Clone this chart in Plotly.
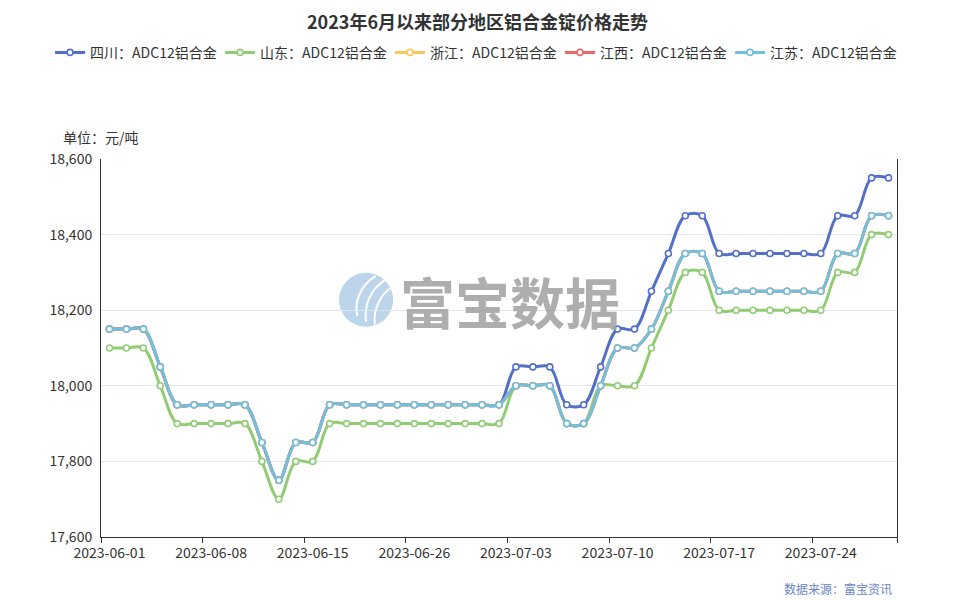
import plotly.graph_objects as go

dates = [
    "2023-06-01", "2023-06-02", "2023-06-03", "2023-06-05", "2023-06-06", "2023-06-07",
    "2023-06-08", "2023-06-09", "2023-06-10", "2023-06-12", "2023-06-13", "2023-06-14",
    "2023-06-15", "2023-06-16", "2023-06-19", "2023-06-20", "2023-06-21", "2023-06-25",
    "2023-06-26", "2023-06-27", "2023-06-28", "2023-06-29", "2023-06-30", "2023-07-01",
    "2023-07-03", "2023-07-04", "2023-07-05", "2023-07-06", "2023-07-07", "2023-07-08",
    "2023-07-10", "2023-07-11", "2023-07-12", "2023-07-13", "2023-07-14", "2023-07-15",
    "2023-07-17", "2023-07-18", "2023-07-19", "2023-07-20", "2023-07-21", "2023-07-22",
    "2023-07-24", "2023-07-25", "2023-07-26", "2023-07-27", "2023-07-28",
]

sichuan = [18150, 18150, 18150, 18050, 17950, 17950, 17950, 17950, 17950, 17850, 17750, 17850,
           17850, 17950, 17950, 17950, 17950, 17950, 17950, 17950, 17950, 17950, 17950, 17950,
           18050, 18050, 18050, 17950, 17950, 18050, 18150, 18150, 18250, 18350, 18450, 18450,
           18350, 18350, 18350, 18350, 18350, 18350, 18350, 18450, 18450, 18550, 18550]
shandong = [18100, 18100, 18100, 18000, 17900, 17900, 17900, 17900, 17900, 17800, 17700, 17800,
            17800, 17900, 17900, 17900, 17900, 17900, 17900, 17900, 17900, 17900, 17900, 17900,
            18000, 18000, 18000, 17900, 17900, 18000, 18000, 18000, 18100, 18200, 18300, 18300,
            18200, 18200, 18200, 18200, 18200, 18200, 18200, 18300, 18300, 18400, 18400]
jiangsu = [18150, 18150, 18150, 18050, 17950, 17950, 17950, 17950, 17950, 17850, 17750, 17850,
           17850, 17950, 17950, 17950, 17950, 17950, 17950, 17950, 17950, 17950, 17950, 17950,
           18000, 18000, 18000, 17900, 17900, 18000, 18100, 18100, 18150, 18250, 18350, 18350,
           18250, 18250, 18250, 18250, 18250, 18250, 18250, 18350, 18350, 18450, 18450]
zhejiang = list(jiangsu)
jiangxi = list(jiangsu)

series_names = ["四川：ADC12铝合金", "山东：ADC12铝合金", "浙江：ADC12铝合金",
                "江西：ADC12铝合金", "江苏：ADC12铝合金"]
series_values = [sichuan, shandong, zhejiang, jiangxi, jiangsu]
colors = ["#5470c6", "#91cc75", "#fac858", "#ee6666", "#73c0de"]

label_dates = dates[::6]
y_ticks = [17600, 17800, 18000, 18200, 18400, 18600]

FONT = "Noto Sans CJK SC, Microsoft YaHei, sans-serif"

fig = go.Figure()
for name, vals, col in zip(series_names, series_values, colors):
    fig.add_trace(go.Scatter(
        x=dates, y=vals, name=name, mode="lines+markers",
        line=dict(color=col, width=3, shape="spline", smoothing=1.0),
        marker=dict(symbol="circle", size=6, color="white",
                    line=dict(color=col, width=1.6)),
    ))

# helper axis for tick marks at category boundaries
n = len(dates)
boundary_ticks = [i - 0.5 for i in range(0, n, 6)] + [n - 0.5]
fig.add_trace(go.Scatter(x=[], y=[], xaxis="x2", showlegend=False, hoverinfo="skip"))

fig.update_layout(
    width=955, height=600,
    margin=dict(l=101, r=58, t=159, b=63),
    paper_bgcolor="white", plot_bgcolor="white",
    font=dict(family=FONT, color="#333333", size=14),
    title=dict(text="<b>2023年6月以来部分地区铝合金锭价格走势</b>",
               x=0.5, xanchor="center", y=0.962, yanchor="middle",
               font=dict(size=18, color="#333333", family=FONT)),
    legend=dict(orientation="h", x=-0.064, xanchor="left",
                y=1.281, yanchor="middle",
                font=dict(size=14, color="#333333", family=FONT),
                itemwidth=30, traceorder="normal",
                entrywidth=125, entrywidthmode="pixels"),
    xaxis=dict(type="category", range=[-0.5, n - 0.5],
               tickmode="array", tickvals=label_dates, ticktext=label_dates,
               ticks="", ticklabelstandoff=3, showgrid=False, showline=True,
               linecolor="#333333", linewidth=1,
               tickfont=dict(size=14, color="#333333"), zeroline=False),
    xaxis2=dict(overlaying="x", anchor="y", side="bottom", range=[-0.5, n - 0.5],
                tickmode="array", tickvals=boundary_ticks, ticks="outside", ticklen=5,
                tickcolor="#333333", showticklabels=False, showgrid=False,
                showline=False, zeroline=False),
    yaxis=dict(range=[17600, 18600], tickmode="array", tickvals=y_ticks,
               tickformat=",d", showgrid=True, gridcolor="#E0E6F1", gridwidth=1,
               showline=True, linecolor="#333333", linewidth=1, mirror=True,
               ticks="", ticklabelstandoff=5,
               tickfont=dict(size=14, color="#333333"), zeroline=False),
    showlegend=True,
)

# unit label
fig.add_annotation(text="单位：元/吨", xref="paper", yref="paper",
                   x=-0.05, y=1.058, xanchor="left", yanchor="middle",
                   showarrow=False, font=dict(size=14, color="#333333", family=FONT))
# source
fig.add_annotation(text="数据来源：富宝资讯", xref="paper", yref="paper",
                   x=0.926, y=-0.135, xanchor="center", yanchor="middle",
                   showarrow=False, font=dict(size=12, color="#6b84c9", family=FONT))
# watermark
fig.add_shape(type="circle", xref="paper", yref="paper",
              x0=0.299, x1=0.367, y0=0.556, y1=0.699,
              fillcolor="#bcd5ea", line=dict(width=0), layer="below")
for p in ["M 0.322 0.585 C 0.318 0.62, 0.325 0.665, 0.345 0.69",
          "M 0.333 0.570 C 0.330 0.61, 0.338 0.655, 0.357 0.680",
          "M 0.344 0.562 C 0.342 0.60, 0.350 0.640, 0.365 0.660"]:
    fig.add_shape(type="path", xref="paper", yref="paper", path=p,
                  line=dict(color="white", width=2), layer="below")
fig.add_annotation(text="<b>富宝数据</b>", xref="paper", yref="paper",
                   x=0.514, y=0.627, xanchor="center", yanchor="middle",
                   showarrow=False, font=dict(size=55, color="rgba(160,160,160,0.85)", family=FONT))

fig.write_html("out.html", config={"displayModeBar": False},
               post_script="document.body.style.margin='0';")
